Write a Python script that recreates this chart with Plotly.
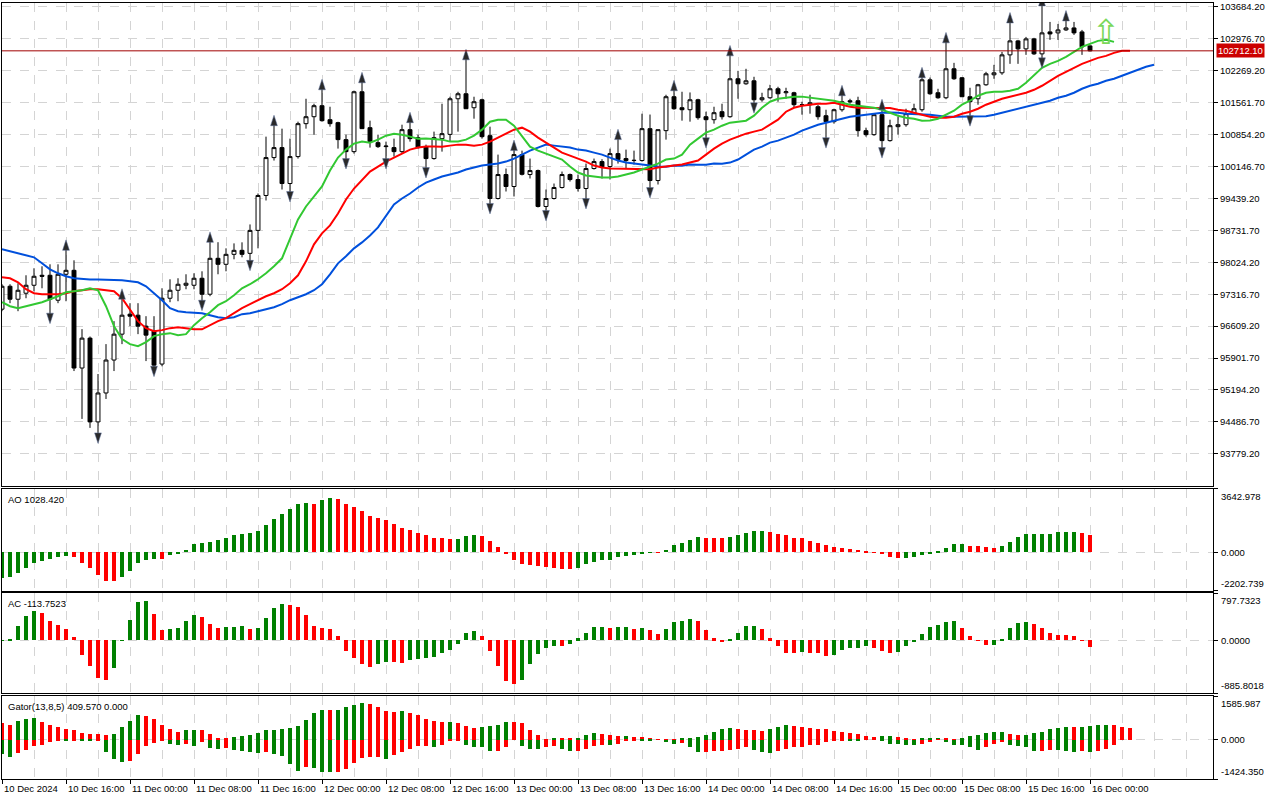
"""BTCUSD H1 chart with Alligator, Fractals, AO, AC and Gator (MT5 style)."""

import pandas as pd
import plotly.graph_objects as go
from plotly.subplots import make_subplots

# ---- price data, hourly bars from 10 Dec 2024 08:00 ----
first_bar = "2024-12-10 08:00"

open_ = [96985, 97494, 97206, 97339, 97516, 97737, 97737, 97184, 97759, 97847,
         95681, 96344, 94487, 95128, 95858, 96432, 96875, 96852, 96609, 96499,
         95769, 97228, 97405, 97516, 97516, 97671, 97317, 98113, 97980, 98201,
         98290, 98223, 98732, 99506, 100346, 100567, 99771, 100368, 101098, 101252,
         101496, 101186, 101120, 100744, 100478, 101805, 101009, 100677, 100589, 100567,
         100478, 100965, 100788, 100589, 100324, 100766, 100860, 101650, 101761, 101451,
         101628, 100832, 99439, 99970, 99705, 100412, 99970, 100058, 99262, 99439,
         99683, 99970, 99859, 99660, 100103, 100257, 100147, 100434, 100324, 100280,
         100280, 100987, 99837, 100943, 101695, 101451, 101407, 101628, 101252, 101186,
         101363, 101252, 102093, 101982, 102048, 101628, 101672, 101871, 101783, 101783,
         101518, 101518, 101473, 101274, 101142, 101407, 101606, 101606, 100943, 100854,
         101297, 100722, 101031, 101075, 101319, 101407, 102070, 101783, 101672, 102314,
         102115, 101695, 101650, 101960, 102181, 102225, 102623, 102933, 102756, 102977,
         102645, 103132, 103110, 103176, 103220, 103132, 102822]

high = [97538, 97538, 97560, 97737, 97892, 97936, 97980, 97980, 98312, 98069,
        96543, 96380, 95548, 96211, 96720, 97228, 97118, 97118, 96830, 96830,
        97449, 97648, 97671, 97759, 97781, 97825, 98489, 98470, 98334, 98444,
        98467, 98864, 99550, 100810, 101075, 100987, 100766, 101142, 101650, 101540,
        101871, 101473, 101140, 100854, 101830, 102026, 101164, 100854, 100700, 100766,
        101075, 101142, 100854, 100633, 100921, 101540, 101695, 101805, 102535, 101695,
        101650, 101031, 100412, 100103, 100523, 100500, 100324, 100080, 99638, 99771,
        100036, 99992, 99970, 100213, 100324, 100310, 100545, 100766, 100523, 100500,
        101319, 101300, 100965, 101739, 101849, 101805, 101790, 101650, 101363, 101473,
        101540, 102623, 102269, 102314, 102137, 101783, 101960, 101916, 101894, 101805,
        101584, 101739, 101518, 101407, 101429, 101739, 101650, 101695, 101009, 101319,
        101429, 101186, 101252, 101429, 101540, 102137, 102120, 101871, 102911, 102446,
        102130, 101894, 101980, 102247, 102402, 102689, 103353, 102955, 103021, 103000,
        103729, 103353, 103309, 103397, 103353, 103176, 102830]

low = [96941, 97118, 96941, 97228, 97383, 97449, 96875, 97118, 97162, 95614,
       94553, 94354, 94221, 94995, 95614, 96211, 96609, 96432, 95835, 95700,
       95720, 97140, 97162, 97427, 97427, 97162, 97273, 97759, 97825, 98091,
       98135, 98046, 98334, 99395, 100280, 99638, 99572, 100324, 100987, 100854,
       101142, 101031, 100545, 100302, 100434, 100987, 100567, 100560, 100302, 100368,
       100434, 100700, 100545, 100103, 100300, 100478, 100700, 100921, 101429, 101208,
       100766, 99307, 99417, 99594, 99484, 99950, 99882, 99240, 99152, 99417,
       99660, 99815, 99594, 99417, 100081, 99882, 99860, 100213, 100103, 100191,
       100257, 99660, 99749, 100744, 101407, 101164, 101142, 101186, 100766, 101098,
       101190, 101230, 101650, 101960, 101540, 101584, 101650, 101584, 101650, 101451,
       101297, 101319, 101186, 100766, 101098, 101363, 101540, 100810, 100810, 100830,
       100545, 100700, 100854, 101031, 101297, 101363, 101739, 101650, 101640, 102070,
       101695, 101252, 101518, 101938, 102093, 102181, 102424, 102424, 102623, 102623,
       102535, 102955, 102955, 103154, 103065, 102623, 102700]

close = [97494, 97206, 97405, 97516, 97715, 97715, 97206, 97759, 97847, 95681,
         96344, 94487, 95128, 95858, 96432, 96852, 96830, 96609, 96410, 95745,
         97228, 97405, 97538, 97560, 97671, 97317, 98113, 97980, 98201, 98290,
         98201, 98732, 99506, 100346, 100567, 99771, 100368, 101098, 101252, 101496,
         101164, 101098, 100744, 100478, 101805, 100987, 100700, 100589, 100600, 100478,
         100965, 100766, 100567, 100324, 100788, 100876, 101650, 101761, 101429, 101584,
         100810, 99439, 99970, 99705, 100412, 99975, 100058, 99262, 99439, 99683,
         99970, 99859, 99660, 100103, 100257, 100147, 100434, 100302, 100280, 100285,
         100987, 99837, 100965, 101695, 101429, 101407, 101628, 101230, 101186, 101341,
         101252, 102093, 101982, 102048, 101628, 101672, 101871, 101761, 101805, 101518,
         101520, 101562, 101252, 101142, 101407, 101584, 101584, 100943, 100854, 101297,
         100722, 101053, 101075, 101319, 101429, 102070, 101761, 101672, 102314, 102093,
         101695, 101584, 101960, 102203, 102225, 102623, 102933, 102756, 102977, 102645,
         103110, 103087, 103176, 103220, 103110, 102800, 102712.10]

# Alligator lines (already shifted forward: jaw 8, teeth 5, lips 3 bars)
jaw = [98312, 98267, 98223, 98179, 98135, 98002, 97869, 97781, 97715, 97670,
       97650, 97646, 97644, 97642, 97640, 97626, 97604, 97582, 97494, 97339,
       97184, 97007, 96941, 96919, 96915, 96897, 96852, 96808, 96786, 96808,
       96875, 96897, 96941, 96985, 97029, 97096, 97184, 97250, 97317, 97405,
       97538, 97759, 98002, 98157, 98334, 98466, 98621, 98798, 99041, 99307,
       99439, 99550, 99683, 99793, 99859, 99926, 99970, 100014, 100081, 100125,
       100169, 100191, 100213, 100257, 100324, 100412, 100501, 100567, 100633, 100611,
       100589, 100567, 100523, 100501, 100456, 100412, 100346, 100280, 100235, 100213,
       100191, 100169, 100147, 100145, 100169, 100165, 100191, 100188, 100186, 100213,
       100210, 100235, 100302, 100412, 100523, 100589, 100677, 100722, 100788, 100854,
       100943, 101009, 101075, 101120, 101164, 101208, 101252, 101274, 101297, 101319,
       101341, 101343, 101340, 101319, 101317, 101315, 101297, 101274, 101252, 101250,
       101252, 101255, 101258, 101262, 101297, 101341, 101385, 101429, 101473, 101518,
       101562, 101606, 101672, 101717, 101783, 101871, 101938, 101982, 102048, 102093,
       102159, 102225, 102292, 102358, 102402]

teeth = [97693, 97670, 97582, 97427, 97339, 97317, 97315, 97318, 97339, 97383,
         97405, 97427, 97425, 97405, 97383, 97228, 96985, 96720, 96565, 96499,
         96521, 96565, 96587, 96565, 96543, 96540, 96631, 96720, 96786, 96897,
         97007, 97096, 97184, 97272, 97339, 97427, 97560, 97737, 98046, 98422,
         98665, 98842, 99106, 99417, 99660, 99859, 100036, 100147, 100257, 100346,
         100434, 100523, 100567, 100589, 100590, 100588, 100611, 100633, 100630, 100611,
         100633, 100700, 100788, 100876, 100965, 101009, 100921, 100788, 100677, 100567,
         100456, 100390, 100324, 100257, 100169, 100125, 100103, 100100, 100081, 100080,
         100082, 100085, 100125, 100147, 100169, 100191, 100235, 100280, 100412, 100545,
         100655, 100744, 100810, 100876, 100921, 100965, 101075, 101186, 101363, 101451,
         101496, 101518, 101540, 101542, 101562, 101518, 101473, 101451, 101450, 101452,
         101449, 101447, 101407, 101385, 101341, 101297, 101252, 101230, 101228, 101252,
         101319, 101363, 101429, 101518, 101584, 101650, 101695, 101739, 101783, 101849,
         101938, 102048, 102159, 102247, 102336, 102424, 102490, 102557, 102601, 102667,
         102712, 102715]

lips = [97140, 97051, 97007, 97051, 97096, 97140, 97206, 97272, 97361, 97383,
        97405, 97449, 97405, 97051, 96609, 96322, 96211, 96167, 96255, 96388,
        96432, 96454, 96410, 96432, 96631, 96786, 96919, 97074, 97162, 97295,
        97449, 97538, 97648, 97781, 97936, 98113, 98555, 98975, 99262, 99484,
        99705, 100058, 100346, 100523, 100655, 100700, 100677, 100744, 100832, 100876,
        100854, 100810, 100766, 100768, 100764, 100744, 100700, 100702, 100744, 100832,
        100965, 101142, 101186, 101184, 101053, 100810, 100589, 100501, 100434, 100368,
        100302, 100147, 100014, 99948, 99926, 99904, 99906, 99926, 99970, 100014,
        100081, 100147, 100213, 100302, 100324, 100412, 100633, 100766, 100899, 100965,
        101053, 101120, 101142, 101164, 101274, 101451, 101584, 101650, 101672, 101695,
        101697, 101672, 101650, 101628, 101606, 101562, 101518, 101496, 101473, 101451,
        101407, 101341, 101274, 101230, 101208, 101164, 101166, 101208, 101297, 101385,
        101518, 101606, 101717, 101783, 101805, 101807, 101827, 101871, 102004, 102159,
        102336, 102424, 102490, 102579, 102690, 102800, 102866, 102933, 102955, 102911]

# Fractal bars (bar index)
fractal_up = [8, 15, 26, 34, 40, 45, 51, 58, 64, 77, 84, 91, 105, 110, 115, 118, 126, 130, 133]
fractal_down = [6, 12, 19, 25, 31, 36, 43, 48, 53, 61, 68, 73, 81, 88, 94, 103, 110, 121, 130]

# Signal arrow (bar index, price)
signal_bar = [138]
signal_price = [103043]

# ---- oscillators ----
ao = [-1480, -1442, -1161, -880, -599, -506, -375, -262, -206, -281,
      -599, -880, -1292, -1630, -1667, -1405, -1068, -599, -412, -356,
      -375, -131, -37, 150, 468, 562, 618, 730, 805, 993,
      1086, 1124, 1236, 1555, 1929, 2191, 2491, 2753, 2828, 2810,
      2997, 3109, 3053, 2753, 2585, 2360, 2116, 1967, 1854, 1611,
      1405, 1274, 1124, 993, 843, 838, 749, 768, 937, 1011,
      937, 656, 337, -75, -431, -693, -698, -787, -843, -880,
      -937, -940, -880, -693, -562, -450, -412, -281, -187, -131,
      -37, -19, -25, 150, 431, 562, 712, 899, 843, 805,
      800, 862, 993, 1124, 1236, 1240, 1180, 1049, 993, 843,
      805, 674, 524, 412, 300, 243, 169, 131, 75, 19,
      -94, -281, -318, -312, -243, -131, -37, 94, 281, 468,
      472, 393, 390, 337, 281, 393, 618, 899, 1030, 1049,
      1068, 1086, 1180, 1185, 1190, 1124, 1028.420]

ac = [-8, 6, 239, 417, 500, 456, 333, 250, 194, 56,
      -250, -428, -628, -678, -461, -11, 350, 650, 656, 444,
      167, 194, 206, 322, 428, 400, 278, 211, 217, 228,
      239, 189, 206, 372, 544, 611, 594, 567, 433, 244,
      200, 183, 67, -178, -294, -400, -444, -400, -361, -367,
      -378, -333, -317, -294, -278, -206, -167, -56, 128, 150,
      67, -178, -428, -683, -733, -667, -406, -233, -128, -94,
      -100, -61, 33, 128, 217, 222, 211, 217, 222, 183,
      200, 167, 100, 183, 317, 333, 367, 333, 167, 33,
      -22, 11, 117, 233, 239, 183, 33, -94, -206, -211,
      -200, -206, -211, -261, -250, -167, -128, -122, -94, -128,
      -178, -211, -194, -94, -17, 111, 222, 250, 317, 322,
      200, 67, -6, -78, -72, 11, 200, 300, 317, 267,
      200, 117, 89, 83, 67, -11, -113.7523]

gator_up = [598, 538, 693, 753, 789, 645, 538, 466, 394, 335,
            251, 215, 203, 179, 215, 466, 693, 896, 860, 753,
            538, 394, 287, 335, 359, 347, 215, 60, 36, 96,
            120, 179, 239, 335, 359, 394, 430, 502, 717, 956,
            1076, 1064, 1087, 1183, 1255, 1326, 1291, 1183, 1040, 1016,
            1028, 956, 896, 753, 693, 645, 657, 609, 502, 430,
            466, 502, 538, 645, 633, 609, 359, 179, 12, 36,
            30, 24, 72, 179, 251, 215, 179, 143, 149, 108,
            102, 36, 12, 6, 4, 36, 72, 108, 179, 287,
            394, 430, 394, 359, 353, 323, 394, 466, 538, 502,
            466, 430, 394, 382, 323, 287, 251, 215, 143, 108,
            114, 143, 108, 36, 6, 36, 42, 72, 36, 6,
            72, 143, 179, 251, 287, 293, 215, 179, 185, 251,
            287, 394, 430, 466, 460, 466, 502, 538, 544, 538,
            466, 409.570]

gator_down = [-538, -633, -502, -359, -239, -179, -96, -24, -60, -24,
              -30, -60, -48, -454, -717, -813, -777, -538, -239, -108,
              -60, -143, -203, -143, -239, -84, -299, -323, -299, -382,
              -418, -454, -502, -442, -538, -598, -896, -1135, -992, -1040,
              -1159, -1171, -1159, -1076, -837, -657, -633, -621, -717, -574,
              -454, -323, -239, -227, -275, -203, -60, -54, -179, -251,
              -275, -418, -406, -275, -6, -239, -323, -329, -275, -239,
              -323, -418, -406, -323, -239, -203, -209, -143, -60, -36,
              -60, -66, -6, -96, -143, -137, -275, -454, -448, -418,
              -412, -359, -323, -275, -382, -454, -502, -418, -323, -275,
              -269, -203, -179, -96, -60, -54, -60, -66, -6, -4,
              -36, -143, -149, -179, -185, -143, -96, -6, -96, -203,
              -209, -275, -359, -275, -143, -96, -179, -239, -275, -418,
              -412, -382, -388, -418, -454, -418, -454, -418, -323, -203]

# ---- axis scales / labels ----
price_ticks = [93779.20, 94486.70, 95194.20, 95901.70, 96609.20, 97316.70, 98024.20,
               98731.70, 99439.20, 100146.70, 100854.20, 101561.70, 102269.20,
               102976.70, 103684.20]
price_range = [93071.4, 103772.6]
ao_range = [-2202.739, 3642.978]
ac_range = [-885.8018, 797.7323]
gator_range = [-1424.350, 1585.987]

time_ticks = ["2024-12-10 08:00", "2024-12-10 16:00", "2024-12-11 00:00", "2024-12-11 08:00",
              "2024-12-11 16:00", "2024-12-12 00:00", "2024-12-12 08:00", "2024-12-12 16:00",
              "2024-12-13 00:00", "2024-12-13 08:00", "2024-12-13 16:00", "2024-12-14 00:00",
              "2024-12-14 08:00", "2024-12-14 16:00", "2024-12-15 00:00", "2024-12-15 08:00",
              "2024-12-15 16:00", "2024-12-16 00:00"]
time_labels = ["10 Dec 2024", "10 Dec 16:00", "11 Dec 00:00", "11 Dec 08:00",
               "11 Dec 16:00", "12 Dec 00:00", "12 Dec 08:00", "12 Dec 16:00",
               "13 Dec 00:00", "13 Dec 08:00", "13 Dec 16:00", "14 Dec 00:00",
               "14 Dec 08:00", "14 Dec 16:00", "15 Dec 00:00", "15 Dec 08:00",
               "15 Dec 16:00", "16 Dec 00:00"]

GREEN = "#008000"
RED = "#ff0000"
GRID = "#d4d4d4"
FONT = "Liberation Sans"

t0 = pd.Timestamp(first_bar)
times = pd.date_range(t0, periods=len(close), freq="h")
HOUR = pd.Timedelta(hours=1)


def bar_colors(vals, first=GREEN, by_abs=False):
    # MT5 colouring: green when the bar grows vs. the previous one
    cols = []
    prev = None
    for v in vals:
        cur = abs(v) if by_abs else v
        if prev is None:
            cols.append(first)
        else:
            cols.append(GREEN if cur > prev else RED)
        prev = cur
    return cols


fig = make_subplots(rows=4, cols=1, shared_xaxes=True, vertical_spacing=0.005)

# Candles
fig.add_trace(go.Candlestick(
    x=times, open=open_, high=high, low=low, close=close,
    increasing=dict(fillcolor="white", line=dict(color="black", width=1)),
    decreasing=dict(fillcolor="black", line=dict(color="black", width=1)),
    whiskerwidth=0, showlegend=False,
), row=1, col=1)

# Alligator
for vals, col in [(jaw, "#0050dc"), (teeth, "#ff0000"), (lips, "#32c832")]:
    fig.add_trace(go.Scatter(
        x=pd.date_range(t0, periods=len(vals), freq="h"), y=vals,
        mode="lines", line=dict(color=col, width=2), showlegend=False,
    ), row=1, col=1)

# Fractals
fig.add_trace(go.Scatter(
    x=[times[i] for i in fractal_up], y=[high[i] + 210 for i in fractal_up],
    mode="markers", marker=dict(symbol="arrow", angle=0, size=11, color="#2a2a2a",
                                line=dict(color="#5a6f9a", width=0.5)),
    showlegend=False,
), row=1, col=1)
fig.add_trace(go.Scatter(
    x=[times[i] for i in fractal_down], y=[low[i] - 210 for i in fractal_down],
    mode="markers", marker=dict(symbol="arrow", angle=180, size=11, color="#2a2a2a",
                                line=dict(color="#5a6f9a", width=0.5)),
    showlegend=False,
), row=1, col=1)

# Signal arrow
fig.add_trace(go.Scatter(
    x=[t0 + i * HOUR for i in signal_bar], y=signal_price,
    mode="text", text=["⇧"], textfont=dict(size=34, color="#7ad85a", family="DejaVu Sans"),
    showlegend=False,
), row=1, col=1)

# Bid line
fig.add_hline(y=close[-1], line=dict(color="#a00000", width=1), row=1, col=1)

bw = 0.45 * 3600 * 1000
fig.add_trace(go.Bar(x=times, y=ao, marker=dict(color=bar_colors(ao), line_width=0),
                     width=bw, showlegend=False), row=2, col=1)
fig.add_trace(go.Bar(x=times, y=ac, marker=dict(color=bar_colors(ac), line_width=0),
                     width=bw, showlegend=False), row=3, col=1)
fig.add_trace(go.Bar(x=pd.date_range(t0, periods=len(gator_up), freq="h"), y=gator_up,
                     marker=dict(color=bar_colors(gator_up, RED, True), line_width=0),
                     width=0.5 * 3600 * 1000, showlegend=False), row=4, col=1)
fig.add_trace(go.Bar(x=pd.date_range(t0, periods=len(gator_down), freq="h"), y=gator_down,
                     marker=dict(color=bar_colors(gator_down, GREEN, True), line_width=0),
                     width=0.5 * 3600 * 1000, showlegend=False), row=4, col=1)

# ---- layout ----
x_range = [t0, t0 + 151.375 * HOUR]
for r in range(1, 5):
    fig.update_xaxes(
        row=r, col=1, range=x_range, showline=True, mirror=True, linecolor="black",
        linewidth=1, tickmode="array", tickvals=time_ticks, showticklabels=False,
        showgrid=True, gridcolor=GRID, griddash="dash", gridwidth=1,
        ticks="outside" if r == 4 else "", ticklen=4, tickcolor="black",
        minor=dict(dtick=4 * 3600 * 1000, tick0=first_bar, showgrid=True,
                   gridcolor=GRID, griddash="dash", ticks=""),
        rangeslider=dict(visible=False), zeroline=False,
    )

fig.update_yaxes(
    row=1, col=1, side="right", range=price_range, tickmode="array",
    tickvals=price_ticks, ticktext=[f"{v:.2f}" for v in price_ticks],
    ticks="outside", ticklen=4, tickcolor="black", showline=True, mirror=True,
    linecolor="black", showgrid=True, gridcolor=GRID, griddash="dash", zeroline=False,
    ticklabeloverflow="allow",
)

osc = [(2, ao_range, 3), (3, ac_range, 4), (4, gator_range, 3)]
for r, rng, dec in osc:
    fig.update_yaxes(
        row=r, col=1, side="right", range=rng, tickmode="array",
        tickvals=[rng[0], 0, rng[1]], showticklabels=False, ticks="outside",
        ticklen=4, tickcolor="black", showline=True, mirror=True, linecolor="black",
        showgrid=True, gridcolor=GRID, griddash="dash", zeroline=False,
    )

fig.update_layout(
    width=1280, height=800,
    margin=dict(l=2, r=67, t=1, b=21),
    paper_bgcolor="white", plot_bgcolor="white",
    font=dict(family=FONT, size=9.5, color="black"),
    barmode="overlay", bargap=0, showlegend=False,
    yaxis=dict(domain=[0.3779, 1.0]),
    yaxis2=dict(domain=[0.2429, 0.3740]),
    yaxis3=dict(domain=[0.1105, 0.2391]),
    yaxis4=dict(domain=[0.0, 0.1067]),
)

ann = []
# Time labels, left aligned at their tick like MT5
for t, lab in zip(time_ticks, time_labels):
    ann.append(dict(x=t, xref="x4", y=0, yref="paper", xanchor="left", yanchor="top",
                    yshift=-2, text=lab, showarrow=False))

# Oscillator scale labels
for r, rng, dec in osc:
    yr = "y%d" % r
    for v, anc in [(rng[1], "top"), (0, "middle"), (rng[0], "bottom")]:
        ann.append(dict(x=1, xref="paper", y=v, yref=yr, xanchor="left", yanchor=anc,
                        xshift=6, text=f"{v:.{dec}f}", showarrow=False))

# Indicator titles
ann.append(dict(x=0, xref="paper", y=ao_range[1], yref="y2", xanchor="left", yanchor="top",
                xshift=4, yshift=-3, text=f"AO {ao[-1]:.3f}", showarrow=False))
ann.append(dict(x=0, xref="paper", y=ac_range[1], yref="y3", xanchor="left", yanchor="top",
                xshift=4, yshift=-3, text=f"AC {ac[-1]:.4f}", showarrow=False))
ann.append(dict(x=0, xref="paper", y=gator_range[1], yref="y4", xanchor="left", yanchor="top",
                xshift=4, yshift=-3, text=f"Gator(13,8,5) {gator_up[-1]:.3f} 0.000",
                showarrow=False))

# Bid price tag
ann.append(dict(x=1, xref="paper", y=close[-1], yref="y", xanchor="left", yanchor="middle",
                xshift=3, text=f"{close[-1]:.2f}", showarrow=False, bgcolor="#cc0000",
                font=dict(color="white"), borderpad=1))

fig.update_layout(annotations=ann)

fig.write_html("out.html", config={"displayModeBar": False},
               post_script="document.body.style.margin='0px';")
